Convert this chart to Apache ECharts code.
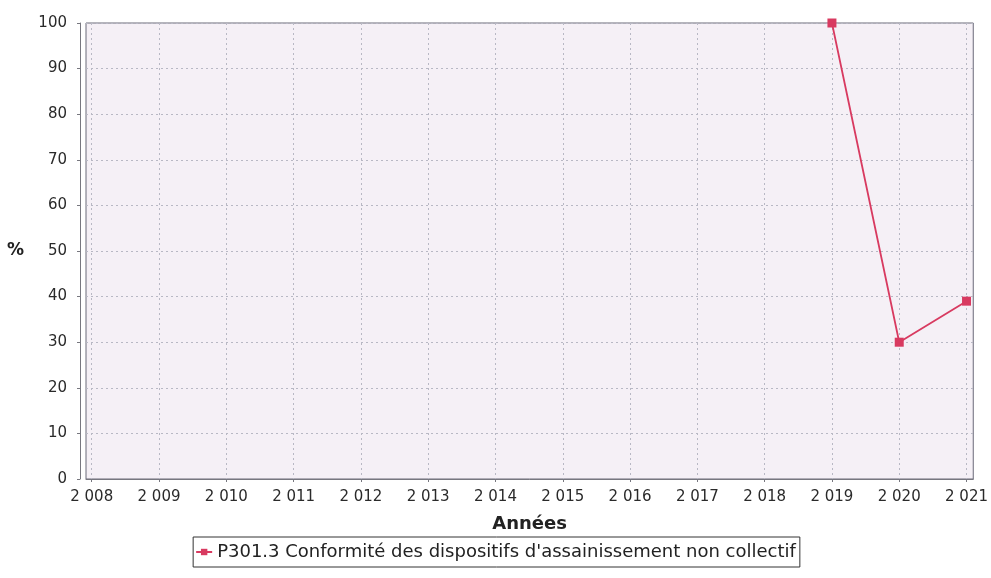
<!DOCTYPE html>
<html>
<head>
<meta charset="utf-8">
<script src="https://cdn.jsdelivr.net/npm/echarts@6/dist/echarts.min.js"></script>
<style>
  html, body { margin: 0; padding: 0; background: #fff; }
  #myChart { width: 991px; height: 578px; }
</style>
</head>
<body>
<div id="myChart"></div>
<script>
var anneesAxe = [2008, 2009, 2010, 2011, 2012, 2013, 2014, 2015, 2016, 2017, 2018, 2019, 2020, 2021]
var annees = [2019, 2020, 2021]
var valeurs = [100, 30, 39]
var nomSerie = 'P301.3 Conformité des dispositifs d\'assainissement non collectif'

function _initChart() {
    var myChart = echarts.init(document.getElementById('myChart'))
    var data = annees.map(function (a, i) { return [a, valeurs[i]] })
    var police = 'DejaVu Sans'
    var option = {
        backgroundColor: '#ffffff',
        textStyle: { fontFamily: police },
        grid: {
            left: 86, right: 15, top: 23, bottom: 99,
            show: true,
            backgroundColor: '#f5f0f6',
            borderColor: '#6a6a78',
            borderWidth: 1
        },
        xAxis: {
            type: 'value',
            min: 2007.915,
            max: 2021.1,
            offset: 4,
            name: 'Années',
            nameLocation: 'middle',
            nameGap: 32,
            nameTextStyle: { fontSize: 18, fontWeight: 'bold', color: '#222', fontFamily: police },
            axisLine: { show: true, lineStyle: { color: '#77777f' } },
            axisTick: { show: true, length: 3, customValues: anneesAxe, lineStyle: { color: '#77777f' } },
            axisLabel: {
                color: '#2a2a2a', fontSize: 15, margin: 7, fontFamily: police,
                customValues: anneesAxe,
                formatter: function (v) {
                    var s = String(Math.round(v))
                    return s.charAt(0) + ' ' + s.slice(1)
                }
            },
            splitLine: { show: true, customValues: anneesAxe, lineStyle: { color: '#b8b8c4', type: [2, 3] } }
        },
        yAxis: {
            type: 'value',
            min: 0,
            max: 100,
            interval: 10,
            offset: 6,
            name: '%',
            nameLocation: 'middle',
            nameGap: 56,
            nameRotate: 0,
            nameTextStyle: { fontSize: 17, fontWeight: 'bold', color: '#222', fontFamily: police },
            axisLine: { show: true, lineStyle: { color: '#77777f' } },
            axisTick: { show: true, length: 3, lineStyle: { color: '#77777f' } },
            axisLabel: { color: '#2a2a2a', fontSize: 15, margin: 13, fontFamily: police },
            splitLine: { show: true, lineStyle: { color: '#b8b8c4', type: [2, 3] } }
        },
        legend: {
            bottom: 11,
            left: 'center',
            data: [nomSerie],
            borderColor: '#333',
            borderWidth: 1,
            padding: [6, 4, 6, 2],
            itemWidth: 16,
            itemHeight: 8,
            itemGap: 4,
            textStyle: { fontSize: 18, color: '#222', fontFamily: police }
        },
        series: [
            {
                name: nomSerie,
                type: 'line',
                data: data,
                symbol: 'rect',
                symbolSize: 9,
                color: '#d83a60',
                lineStyle: { width: 1.8, color: '#d83a60' },
                itemStyle: { color: '#d83a60' },
                animation: false
            }
        ]
    }
    myChart.setOption(option)
    window.addEventListener('resize', function () {
        myChart.resize()
    })
}

_initChart()
</script>
</body>
</html>
